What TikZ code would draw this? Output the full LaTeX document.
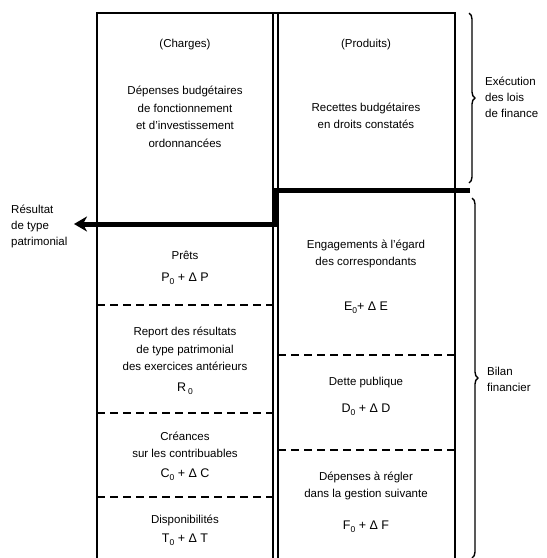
\documentclass[tikz,border=0pt]{standalone}
\usepackage{fontspec}
\setmainfont{Liberation Sans}
\usetikzlibrary{arrows.meta,decorations.pathreplacing}
\newcommand\lowidx[1]{\raisebox{-3pt}{\fontsize{8.5}{9}\selectfont #1}}
\begin{document}
\begin{tikzpicture}[x=1pt,y=-1pt,
  txt/.style={font=\fontsize{11.5}{17.5}\selectfont, align=center, inner sep=0pt},
  formula/.style={font=\fontsize{12.5}{15}\selectfont, inner sep=0pt},
  side/.style={font=\fontsize{11.5}{16}\selectfont, align=left, inner sep=0pt, anchor=west},
  frame/.style={line width=1.5pt},
  sep/.style={line width=1.3pt, dash pattern=on 8pt off 5pt},
  heavy/.style={line width=5pt},
  bracestyle/.style={decorate, decoration={brace, amplitude=6pt}, line width=1.4pt}]
\useasboundingbox (0,0) rectangle (547,558);

% frame
\draw[frame] (97,558) -- (97,13) -- (455,13) -- (455,558);
\draw[frame] (273,13) -- (273,558);
\draw[frame] (278,13) -- (278,558);

% dashed separators
\draw[sep] (97,305) -- (273,305);
\draw[sep] (97,413) -- (273,413);
\draw[sep] (97,497) -- (273,497);
\draw[sep] (278,355) -- (455,355);
\draw[sep] (278,450) -- (455,450);

% top left
\node[txt] (charges) at (185,45) {(Charges)};
\node[txt] (depbud) at (185,117) {Dépenses budgétaires\\de fonctionnement\\et d'investissement\\ordonnancées};
% top right
\node[txt] (produits) at (366,45) {(Produits)};
\node[txt] (recettes) at (366,116) {Recettes budgétaires\\en droits constatés};

% left column
\node[txt] (prets) at (185,255) {Prêts};
\node[formula] (pf) at (185,279) {P\lowidx{0} + Δ P};
\node[txt] (report) at (185,349) {Report des résultats\\de type patrimonial\\des exercices antérieurs};
\node[formula] (rf) at (185,389) {R\,\lowidx{0}};
\node[txt] (creances) at (185,445) {Créances\\sur les contribuables};
\node[formula] (cf) at (185,475) {C\lowidx{0} + Δ C};
\node[txt] (dispo) at (185,520) {Disponibilités};
\node[formula] (tf) at (185,540) {T\lowidx{0} + Δ T};

% right column
\node[txt] (engag) at (366,254) {Engagements à l'égard\\des correspondants};
\node[formula] (ef) at (366,308) {E\lowidx{0}+ Δ E};
\node[txt] (dette) at (366,383) {Dette publique};
\node[formula] (df) at (366,410) {D\lowidx{0} + Δ D};
\node[txt] (deprg) at (366,486) {Dépenses à régler\\dans la gestion suivante};
\node[formula] (ff) at (366,527) {F\lowidx{0} + Δ F};

% side labels
\node[side] (exec) at (485,97) {Exécution\\des lois\\de finance};
\node[side] (bilan) at (487,379) {Bilan\\financier};
\node[side] (res) at (11,226) {Résultat\\de type\\patrimonial};

% braces
\coordinate (b1a) at (469,13);
\coordinate (b1b) at (469,183);
\coordinate (b2a) at (472,198);
\coordinate (b2b) at (472,558);
\draw[bracestyle] (b1a) -- (b1b);
\draw[bracestyle] (b2a) -- (b2b);

% heavy result line
\coordinate (tr) at (470,190);
\coordinate (kn1) at (275.5,190);
\coordinate (kn2) at (275.5,224);
\coordinate (tip) at (74,224);
\draw[heavy, line join=miter, -{Stealth[length=13pt,width=15pt,inset=4pt]}] (tr) -- (kn1) -- (kn2) -- (tip);
\end{tikzpicture}
\end{document}
